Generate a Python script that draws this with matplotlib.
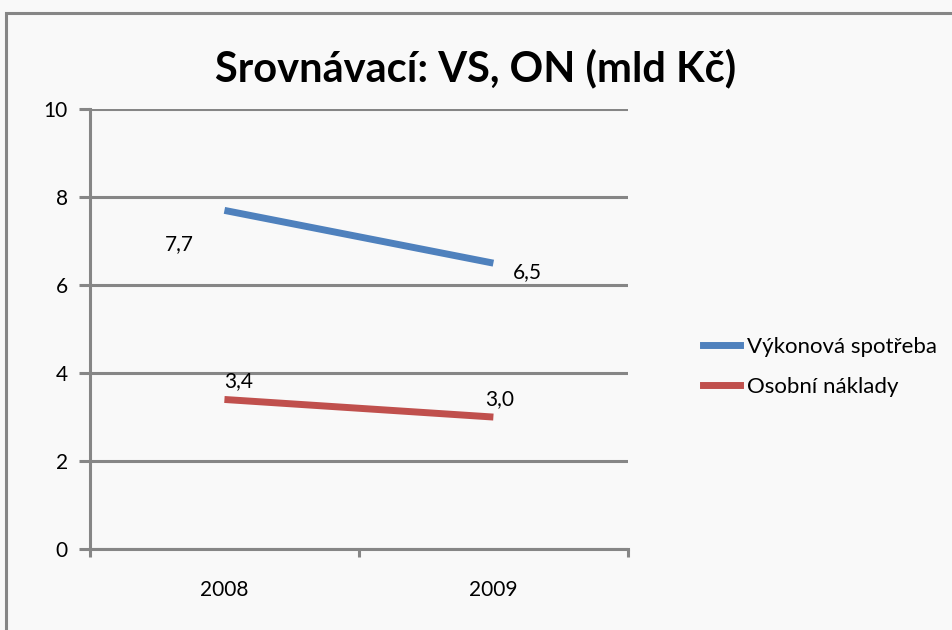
# Srovnávací: VS, ON (mld Kč)

import matplotlib.pyplot as plt
from matplotlib.lines import Line2D

plt.rcParams['font.family'] = ['Lato', 'DejaVu Sans']

# data
years = ['2008', '2009']
vs = [7.7, 6.5]
on = [3.4, 3.0]
labels_vs = ['7,7', '6,5']
labels_on = ['3,4', '3,0']
series_names = ['Výkonová spotřeba', 'Osobní náklady']

blue = '#4F81BD'
red = '#C0504D'
gray = '#868686'
bg = '#F9F9F9'

fig = plt.figure(figsize=(9.52, 6.3), dpi=100, facecolor=bg)
ax = fig.add_axes([0.0945, 0.1286, 0.565, 0.698])
ax.set_facecolor(bg)

x = list(range(len(years)))
ax.plot(x, vs, color=blue, lw=5, solid_capstyle='butt')
ax.plot(x, on, color=red, lw=5, solid_capstyle='butt')

# data labels
fs = 15
ax.annotate(labels_vs[0], (x[0], vs[0]), xytext=(-60, -40), textcoords='offset pixels', fontsize=fs)
ax.annotate(labels_vs[1], (x[1], vs[1]), xytext=(20, -15), textcoords='offset pixels', fontsize=fs)
ax.annotate(labels_on[0], (x[0], on[0]), xytext=(0, 12), textcoords='offset pixels', fontsize=fs)
ax.annotate(labels_on[1], (x[1], on[1]), xytext=(-8, 12), textcoords='offset pixels', fontsize=fs)

ax.set_xlim(-0.5, 1.5)
ax.set_ylim(0, 10)
ax.set_yticks(range(0, 11, 2))
ax.grid(axis='y', color=gray, lw=2.2)
ax.set_axisbelow(True)

ax.set_xticks([-0.5, 0.5, 1.5])
ax.set_xticklabels([])
ax.set_xticks(x, minor=True)
ax.set_xticklabels(years, minor=True)
ax.tick_params(axis='x', which='minor', length=0, pad=22, labelsize=fs)
ax.tick_params(axis='x', which='major', length=6, width=2.2, color=gray, direction='out')
ax.tick_params(axis='y', length=8, width=2.2, color=gray, labelsize=fs, pad=8)

for s in ['top', 'right']:
    ax.spines[s].set_visible(False)
ax.spines['left'].set_color(gray)
ax.spines['left'].set_linewidth(2.2)
ax.spines['bottom'].set_color(gray)
ax.spines['bottom'].set_linewidth(2.2)

fig.text(0.5, 0.892, 'Srovnávací: VS, ON (mld Kč)', ha='center', va='center',
         fontsize=30, fontweight='bold')

handles = [Line2D([0], [0], color=blue, lw=5), Line2D([0], [0], color=red, lw=5)]
fig.legend(handles, series_names, loc='center left', bbox_to_anchor=(0.717, 0.418),
           frameon=False, fontsize=16, handlelength=1.7, handletextpad=0.3,
           labelspacing=0.9)

# chart frame
fig.add_artist(plt.Rectangle((0.0063, -0.1), 1.2, 1.08, transform=fig.transFigure,
                             fill=False, edgecolor=gray, lw=2.2))

fig.savefig('out.png', dpi=100, facecolor=bg)
